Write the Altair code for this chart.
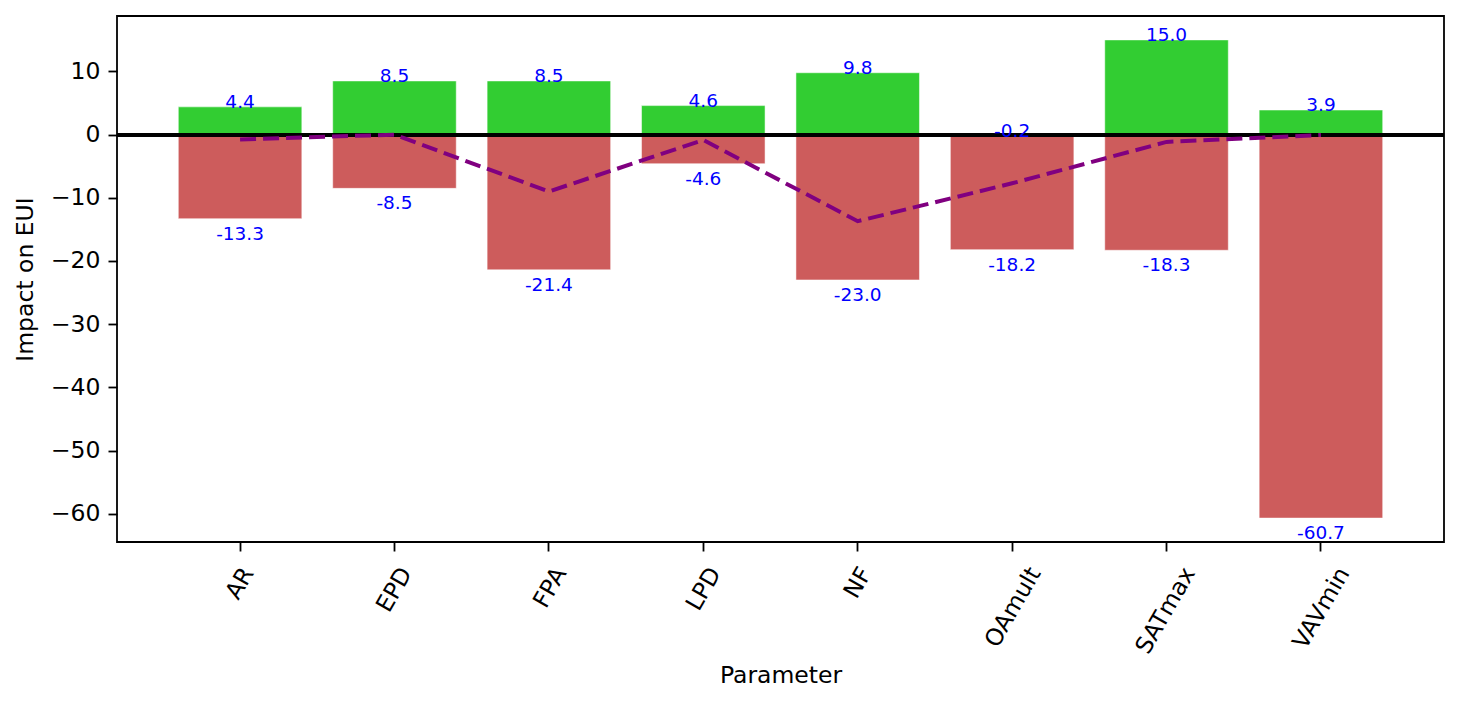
import altair as alt
import pandas as pd

params = ["AR", "EPD", "FPA", "LPD", "NF", "OAmult", "SATmax", "VAVmin"]
pos_vals = [4.4, 8.5, 8.5, 4.6, 9.8, -0.2, 15.0, 3.9]
neg_vals = [-13.3, -8.5, -21.4, -4.6, -23.0, -18.2, -18.3, -60.7]
line_vals = [-0.75, 0.0, -9.0, -0.85, -13.7, -7.7, -1.15, -0.05]
y_ticks = [10, 0, -10, -20, -30, -40, -50, -60]

rows = []
for p, v in zip(params, pos_vals):
    rows.append({"Parameter": p, "value": v, "kind": "pos", "label": f"{v:.1f}"})
for p, v in zip(params, neg_vals):
    rows.append({"Parameter": p, "value": v, "kind": "neg", "label": f"{v:.1f}"})
bars_df = pd.DataFrame(rows)
line_df = pd.DataFrame({"Parameter": params, "value": line_vals})

FONT = "DejaVu Sans"
ymin = min(neg_vals + pos_vals)
ymax = max(neg_vals + pos_vals)
marg = (ymax - ymin) * 0.05

xscale = alt.Scale(domain=params, paddingInner=0.2, paddingOuter=0.397)
yscale = alt.Scale(domain=[ymin - marg, ymax + marg], nice=False, zero=False)

x_enc = alt.X(
    "Parameter:N",
    scale=xscale,
    sort=params,
    title="Parameter",
    axis=alt.Axis(
        labelAngle=300,
        labelAlign="right",
        labelBaseline="middle",
        labelPadding=18,
        labelOffset={"expr": "3.7*length(datum.label)+1"},
        titlePadding=6,
    ),
)
y_enc = alt.Y(
    "value:Q",
    scale=yscale,
    title="Impact on EUI",
    axis=alt.Axis(values=y_ticks, labelPadding=8, titlePadding=13),
)

bars = alt.Chart(bars_df).mark_bar(stroke="white", strokeOpacity=0.5, strokeWidth=1).encode(
    x=x_enc,
    y=y_enc,
    y2=alt.datum(0),
    color=alt.Color(
        "kind:N",
        scale=alt.Scale(domain=["pos", "neg"], range=["#32CD32", "#CD5C5C"]),
        legend=None,
    ),
)

zero = alt.Chart(bars_df).mark_rule(color="black", strokeWidth=3).encode(
    y=alt.datum(0)
)

line = alt.Chart(line_df).mark_line(
    color="#800080", strokeWidth=4, strokeDash=[16, 7]
).encode(x=alt.X("Parameter:N", sort=params), y="value:Q")

pos_text = alt.Chart(bars_df).transform_filter("datum.kind == 'pos'").mark_text(
    color="#0000FF", font=FONT, fontSize=18.5, baseline="alphabetic", dy=1
).encode(x=alt.X("Parameter:N", sort=params), y="value:Q", text="label:N")

neg_text = alt.Chart(bars_df).transform_filter("datum.kind == 'neg'").mark_text(
    color="#0000FF", font=FONT, fontSize=18.5, baseline="top", dy=6
).encode(x=alt.X("Parameter:N", sort=params), y="value:Q", text="label:N")

chart = (
    alt.layer(bars, zero, line, pos_text, neg_text)
    .properties(width=1327, height=526, padding={"left": 5, "top": 8, "right": 5, "bottom": 5})
    .configure_view(stroke="black", strokeWidth=1.8)
    .configure_axis(
        grid=False,
        domain=False,
        labelFont=FONT,
        labelFontSize=23.5,
        labelColor="black",
        titleFont=FONT,
        titleFontSize=23.5,
        titleFontWeight="normal",
        titleColor="black",
        tickColor="black",
        tickWidth=1.8,
        tickSize=9,
    )
)

chart.save("out.html", embed_options={"renderer": "svg", "actions": False})
